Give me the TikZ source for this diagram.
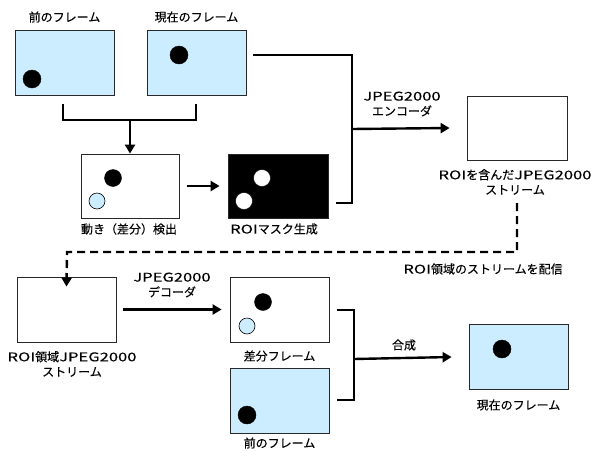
\documentclass[tikz,border=0pt]{standalone}
\usepackage{fontspec}
\setmainfont[FakeBold=0.2]{Noto Sans CJK JP}
\newfontfamily\latf[FakeStretch=1.38,FakeBold=0.2]{Noto Sans CJK JP}
\newcommand{\LT}[1]{{\latf #1}}
\usetikzlibrary{arrows.meta}
\definecolor{lblue}{RGB}{204,236,255}
\definecolor{edge}{RGB}{40,40,40}
\tikzset{
  frame/.style={draw=edge,line width=0.8pt,minimum width=99pt,minimum height=65pt,inner sep=0pt},
  bluebox/.style={frame,fill=lblue},
  whitebox/.style={frame,fill=white},
  blackbox/.style={frame,fill=black},
  dot/.style={circle,draw=black,fill=black,minimum size=18pt,inner sep=0pt},
  wdot/.style={circle,draw=black,fill=white,minimum size=17pt,inner sep=0pt},
  bdot/.style={circle,draw=black,line width=0.6pt,fill=lblue,minimum size=16pt,inner sep=0pt},
  lbl/.style={font=\fontsize{12pt}{15pt}\selectfont,inner sep=0pt,align=center},
  conn/.style={line width=2.4pt,line cap=butt},
  arr/.style={conn,-{Triangle[length=9pt,width=10pt]}},
}
\begin{document}
\begin{tikzpicture}[x=1pt,y=-1pt]
\useasboundingbox (0,0) rectangle (594,450);
% top frames
\node[bluebox] (prev) at (64.5,63) {};
\node[bluebox] (curr) at (196.5,63) {};
\node[dot] (prevdot) at (32,79) {};
\node[dot] (currdot) at (179,55) {};
\node[lbl] (prevlbl) at (64.5,17) {前のフレーム};
\node[lbl] (currlbl) at (196.5,17) {現在のフレーム};
% motion detection
\node[whitebox,minimum height=64pt,minimum width=98pt] (diff) at (130,186) {};
\node[dot,minimum size=17pt] (diffd1) at (113,178) {};
\node[bdot] (diffd2) at (97,201) {};
\node[lbl] (difflbl) at (129,229) {動き（差分）検出};
% ROI mask
\node[blackbox,minimum width=100pt,minimum height=64pt] (mask) at (278,186) {};
\node[wdot] (maskd1) at (262,178) {};
\node[wdot] (maskd2) at (244,201) {};
\node[lbl] (masklbl) at (274,229) {\LT{ROI}マスク生成};
% bracket to diff
\coordinate (b1) at (63,104);
\coordinate (b1b) at (63,120);
\coordinate (b2) at (196,104);
\coordinate (b2b) at (196,120);
\coordinate (bm) at (130,120);
\draw[conn,line join=miter] (b1) -- (b1b) -- (b2b) -- (b2);
\draw[arr] (bm) -- (diff.north);
\draw[arr] ([xshift=8pt]diff.east) -- ([xshift=-8pt]mask.west);
% encoder
\coordinate (ej) at (352,55);
\coordinate (ejb) at (352,203);
\coordinate (em) at (352,129);
\coordinate (cs) at (253,55);
\coordinate (ms) at (336,203);
\draw[conn,line join=miter] (cs) -- (ej) -- (ejb) -- (ms);
\node[whitebox,minimum width=100pt,minimum height=64pt] (roi) at (517,128) {};
\draw[arr] (em) -- ([xshift=-17pt]roi.west);
\node[lbl] (enclbl) at (402,104) {\LT{JPEG2000}\\エンコーダ};
\node[lbl] (roilbl) at (515,182) {\LT{ROI}を含んだ\LT{JPEG2000}\\ストリーム};
% dashed distribution
\coordinate (d1) at (517,203);
\coordinate (d2) at (517,252);
\coordinate (d3) at (67,252);
\node[whitebox] (roistr) at (66.5,309.5) {};
\draw[arr,line join=miter,dash pattern=on 8pt off 5pt] (d1) -- (d2) -- (d3) -- ([yshift=-10pt]roistr.north);
\node[lbl] (distlbl) at (483,269) {\LT{ROI}領域のストリームを配信};
\node[lbl] (roistrlbl) at (72,364) {\LT{ROI}領域\LT{JPEG2000}\\ストリーム};
% decoder
\node[whitebox] (dframe) at (279.5,309.5) {};
\node[dot,minimum size=17pt] (dfd1) at (263,302) {};
\node[bdot] (dfd2) at (247,326) {};
\node[lbl] (dframelbl) at (279.5,356) {差分フレーム};
\draw[arr] ([xshift=7pt]roistr.east) -- ([xshift=-8pt]dframe.west);
\node[lbl] (declbl) at (172,285) {\LT{JPEG2000}\\デコーダ};
% lower previous frame
\node[bluebox] (pframe) at (279.5,400.5) {};
\node[dot] (pfd) at (247,415) {};
\node[lbl] (pframelbl) at (279.5,443) {前のフレーム};
% synthesis
\coordinate (s1) at (337,310);
\coordinate (s1b) at (354,310);
\coordinate (s2) at (337,400);
\coordinate (s2b) at (354,400);
\coordinate (sm) at (354,359);
\draw[conn,line join=miter] (s1) -- (s1b) -- (s2b) -- (s2);
\node[bluebox] (result) at (518.5,357) {};
\node[dot] (resd) at (502,349) {};
\draw[arr] (sm) -- ([xshift=-17pt]result.west);
\node[lbl] (synlbl) at (404,345) {合成};
\node[lbl] (resultlbl) at (518.5,405) {現在のフレーム};
\end{tikzpicture}
\end{document}
